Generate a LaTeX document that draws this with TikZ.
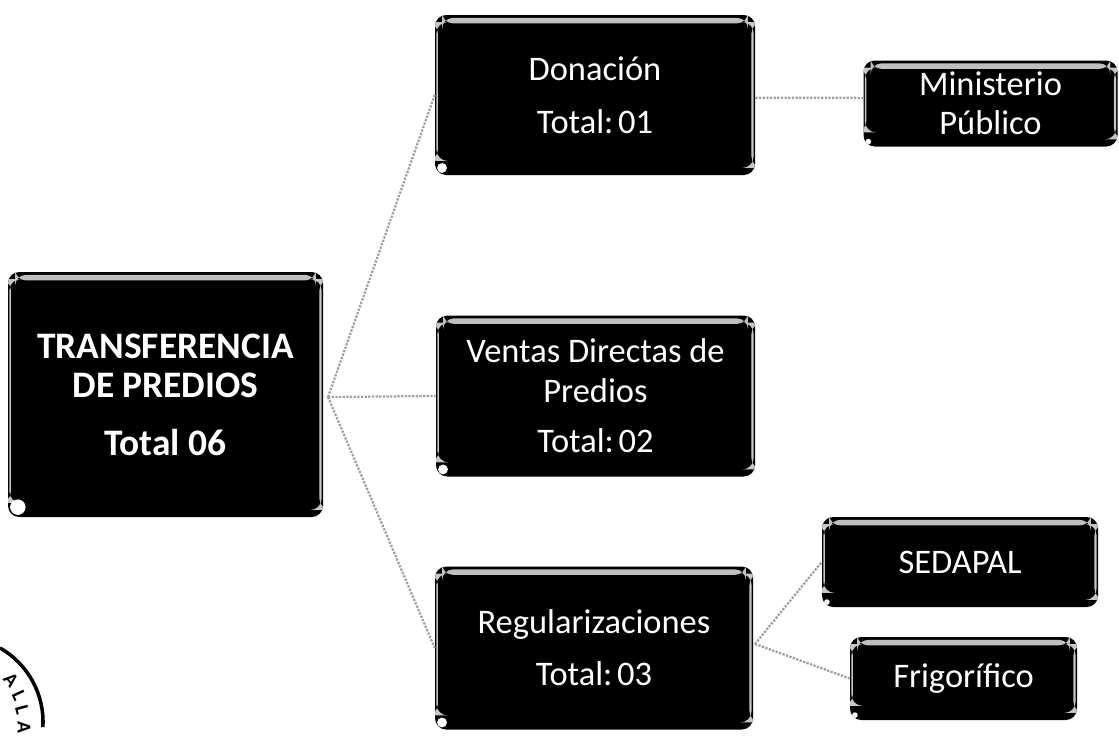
\documentclass[tikz,border=0pt]{standalone}
\usepackage{fontspec}
\setmainfont{Carlito}
\tikzset{
    predio/.style={rectangle, rounded corners=8pt, fill=black, text=white, align=center, inner sep=0pt,
        font=\fontsize{24.5}{28}\selectfont,
        path picture={
            \fill[gray!50] ([xshift=5pt,yshift=-2pt]path picture bounding box.north west) rectangle ([xshift=-5pt,yshift=-6pt]path picture bounding box.north east);
            \fill[gray!45] ([xshift=-2.5pt,yshift=-5pt]path picture bounding box.north east) rectangle ([xshift=-1pt,yshift=5pt]path picture bounding box.south east);
            \fill[gray!45] ([xshift=1pt,yshift=-5pt]path picture bounding box.north west) rectangle ([xshift=2pt,yshift=10pt]path picture bounding box.south west);
            \fill[white] ([xshift=#1+1.5pt,yshift=#1+1.5pt]path picture bounding box.south west) circle (#1);
        }},
    predio/.default=2pt,
    enlace/.style={gray!75, line width=1.6pt, densely dotted},
    sello/.style={font=\bfseries\fontsize{14}{14}\selectfont, inner sep=0pt}
}
\begin{document}
\begin{tikzpicture}[x=0.025cm,y=-0.025cm]
    \useasboundingbox (0,0) rectangle (1119,738);

    \node[predio=5.5pt, minimum width=315*0.025cm, minimum height=245*0.025cm, font=\bfseries\fontsize{26.6}{28}\selectfont] (total) at (165.5,394.5) {TRANSFERENCIA\\DE PREDIOS\\[13pt]Total 06};
    \node[predio=3.5pt, minimum width=320*0.025cm, minimum height=160*0.025cm] (donacion) at (595,95) {Donación\\[10pt]Total:\kern-4pt{} 01};
    \node[predio=3.5pt, minimum width=319*0.025cm, minimum height=161*0.025cm] (ventas) at (595.5,396) {Ventas Directas de\\Predios\\[8pt]Total:\kern-4pt{} 02};
    \node[predio=3.5pt, minimum width=318*0.025cm, minimum height=163*0.025cm] (regular) at (594,648) {Regularizaciones\\[9pt]Total:\kern-4pt{} 03};
    \node[predio, minimum width=254*0.025cm, minimum height=86*0.025cm] (ministerio) at (990.5,103.5) {Ministerio\\Público};
    \node[predio, minimum width=276*0.025cm, minimum height=90*0.025cm] (sedapal) at (960,562) {SEDAPAL};
    \node[predio, minimum width=227*0.025cm, minimum height=83*0.025cm] (frigorifico) at (963.5,678.5) {Frigorífico};

    \coordinate (salida) at (328,397);
    \coordinate (rama) at (755,644);

    \draw[enlace] (salida) to (donacion.west); \draw[enlace] (salida) to (ventas.west); \draw[enlace] (salida) to (regular.west);
    \draw[enlace] ([yshift=-2pt]donacion.east) to ([yshift=4pt]ministerio.west);
    \draw[enlace] (rama) to (sedapal.west); \draw[enlace] (rama) to (frigorifico.west);

    \draw[line width=2.5pt] (0,648) arc[start angle=-60.4, end angle=3.5, radius=85];
    \node[sello, rotate=-50] (sello1) at (11,680) {A};
    \node[sello, rotate=-65] (sello2) at (19,696) {L};
    \node[sello, rotate=-75] (sello3) at (22,710) {L};
    \node[sello, rotate=-90] (sello4) at (24,727) {A};
\end{tikzpicture}
\end{document}
